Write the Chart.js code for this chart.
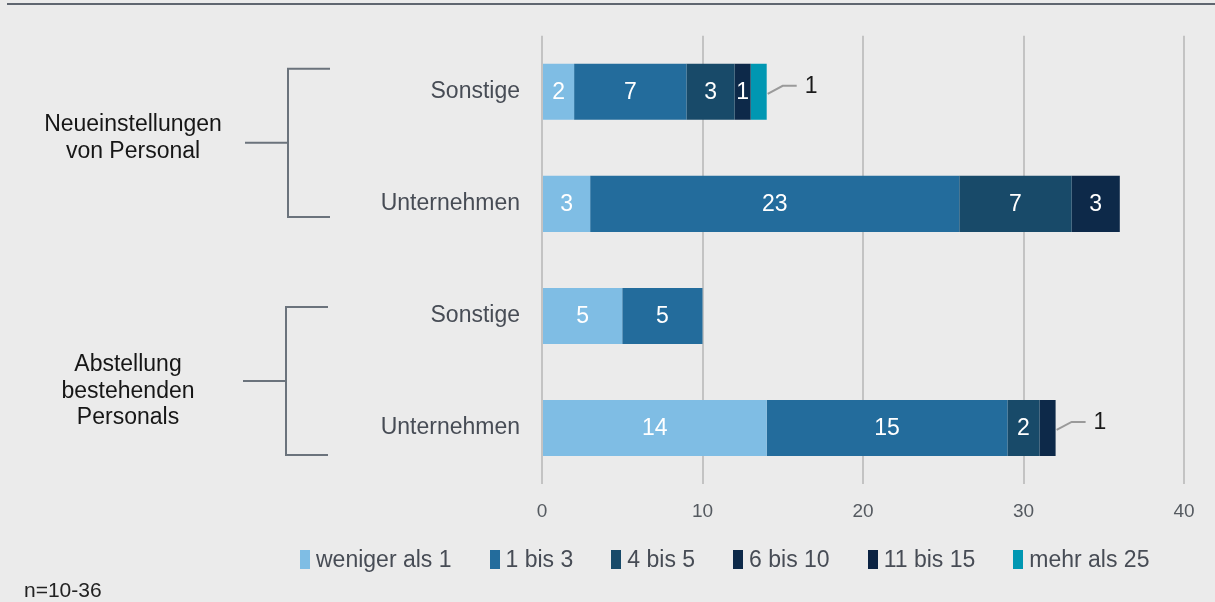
<!DOCTYPE html>
<html>
<head>
<meta charset="utf-8">
<script src="https://cdn.jsdelivr.net/npm/chart.js@4.4.1/dist/chart.umd.min.js"></script>
<style>
  body { margin: 0; background: #ebebeb; font-family: 'Liberation Sans', Arial, sans-serif; }
  #wrap { position: relative; width: 1215px; height: 602px; overflow: hidden; }
  #topline { position: absolute; left: 7px; right: 0; top: 3px; height: 2px; background: #5f6670; }
  #legend { position: absolute; top: 546px; left: 300px; display: flex; align-items: center; font-size: 23px; color: #474c55; white-space: nowrap; }
  #legend .item { display: flex; align-items: center; margin-right: 38px; }
  #legend .item:last-child { margin-right: 0; }
  #legend .box { width: 10px; height: 19px; margin-right: 6px; }
  #note { position: absolute; left: 24px; top: 578px; font-size: 21px; color: #222; }
</style>
</head>
<body>
<div id="wrap">
  <canvas id="chart" width="1215" height="602"></canvas>
  <div id="topline"></div>
  <div id="legend"></div>
  <div id="note">n=10-36</div>
</div>
<script>
const categories = ['Sonstige', 'Unternehmen', 'Sonstige', 'Unternehmen'];
const groupLabels = [['Neueinstellungen', 'von Personal'], ['Abstellung', 'bestehenden', 'Personals']];
const seriesNames = ['weniger als 1', '1 bis 3', '4 bis 5', '6 bis 10', '11 bis 15', 'mehr als 25'];
const wenigerAls1 = [2, 3, 5, 14];
const bis3 = [7, 23, 5, 15];
const bis5 = [3, 7, 0, 2];
const bis10 = [1, 3, 0, 1];
const bis15 = [0, 0, 0, 0];
const mehrAls25 = [1, 0, 0, 0];
const xTicks = [0, 10, 20, 30, 40];
const colors = ['#7fbde4', '#236c9c', '#184a69', '#0d2949', '#0b2343', '#0097b2'];

const seriesValues = [wenigerAls1, bis3, bis5, bis10, bis15, mehrAls25];
const FONT = '"Liberation Sans", Arial, sans-serif';

// html legend
const legendEl = document.getElementById('legend');
seriesNames.forEach((name, i) => {
  const item = document.createElement('div');
  item.className = 'item';
  item.innerHTML = '<span class="box" style="background:' + colors[i] + '"></span><span>' + name + '</span>';
  legendEl.appendChild(item);
});

// value labels in the bars, small last pieces get a leader line
const valueLabels = {
  id: 'valueLabels',
  afterDatasetsDraw(chart) {
    const ctx = chart.ctx;
    ctx.save();
    ctx.font = '23px ' + FONT;
    ctx.textBaseline = 'middle';
    categories.forEach((c, row) => {
      let last = -1;
      seriesValues.forEach((vals, s) => { if (vals[row] > 0) last = s; });
      seriesValues.forEach((vals, s) => {
        const v = vals[row];
        if (!v) return;
        const el = chart.getDatasetMeta(s).data[row];
        const w = Math.abs(el.x - el.base);
        if (s === last && w < 20) {
          ctx.strokeStyle = '#9a9a9a';
          ctx.lineWidth = 2;
          ctx.beginPath();
          ctx.moveTo(el.x + 1, el.y + 2);
          ctx.lineTo(el.x + 16, el.y - 6);
          ctx.lineTo(el.x + 30, el.y - 6);
          ctx.stroke();
          ctx.fillStyle = '#1a1a1a';
          ctx.textAlign = 'left';
          ctx.fillText(String(v), el.x + 38, el.y - 5);
        } else {
          ctx.fillStyle = '#ffffff';
          ctx.textAlign = 'center';
          ctx.fillText(String(v), (el.x + el.base) / 2, el.y + 1);
        }
      });
    });
    ctx.restore();
  }
};

// group brackets and labels on the left
const groupBrackets = {
  id: 'groupBrackets',
  afterDraw(chart) {
    const ctx = chart.ctx;
    const y = chart.scales.y;
    const spec = [
      { rows: [0, 1], top: -23, bottom: 13, x: 288, textX: 133, textShift: -9.5 },
      { rows: [2, 3], top: -9, bottom: 27, x: 286, textX: 128, textShift: 19.5 }
    ];
    ctx.save();
    ctx.strokeStyle = '#6b737c';
    ctx.lineWidth = 2;
    spec.forEach((g, gi) => {
      const y0 = y.getPixelForValue(g.rows[0]) + g.top;
      const y1 = y.getPixelForValue(g.rows[1]) + g.bottom;
      const mid = (y0 + y1) / 2;
      ctx.beginPath();
      ctx.moveTo(g.x + 42, y0);
      ctx.lineTo(g.x, y0);
      ctx.lineTo(g.x, y1);
      ctx.lineTo(g.x + 42, y1);
      ctx.moveTo(g.x - 43, mid);
      ctx.lineTo(g.x, mid);
      ctx.stroke();

      const lines = groupLabels[gi];
      const center = (y.getPixelForValue(g.rows[0]) + y.getPixelForValue(g.rows[1])) / 2 + g.textShift;
      const lh = 26.5;
      ctx.fillStyle = '#161616';
      ctx.font = '23px ' + FONT;
      ctx.textAlign = 'center';
      ctx.textBaseline = 'middle';
      lines.forEach((t, i) => {
        ctx.fillText(t, g.textX, center + (i - (lines.length - 1) / 2) * lh);
      });
    });
    ctx.restore();
  }
};

new Chart(document.getElementById('chart'), {
  type: 'bar',
  data: {
    labels: categories,
    datasets: seriesNames.map((name, i) => ({
      label: name,
      data: seriesValues[i],
      backgroundColor: colors[i],
      borderWidth: 0,
      barPercentage: 1,
      categoryPercentage: 0.5
    }))
  },
  options: {
    indexAxis: 'y',
    responsive: false,
    animation: false,
    layout: { padding: { top: 34, right: 31, bottom: 0, left: 0 } },
    plugins: {
      legend: { display: false },
      tooltip: { enabled: false }
    },
    scales: {
      x: {
        stacked: true,
        min: xTicks[0],
        max: xTicks[xTicks.length - 1],
        afterFit(scale) { scale.height = 118; },
        afterBuildTicks(scale) { scale.ticks = xTicks.map(v => ({ value: v })); },
        grid: { color: '#c3c3c3', lineWidth: 2, drawTicks: false },
        border: { display: false },
        ticks: { padding: 16, color: '#555a60', font: { size: 19, family: FONT } }
      },
      y: {
        stacked: true,
        afterFit(scale) { scale.width = 542; },
        grid: { display: false, drawTicks: false },
        border: { display: false },
        ticks: { padding: 22, color: '#474c55', font: { size: 23, family: FONT } }
      }
    }
  },
  plugins: [valueLabels, groupBrackets]
});
</script>
</body>
</html>
